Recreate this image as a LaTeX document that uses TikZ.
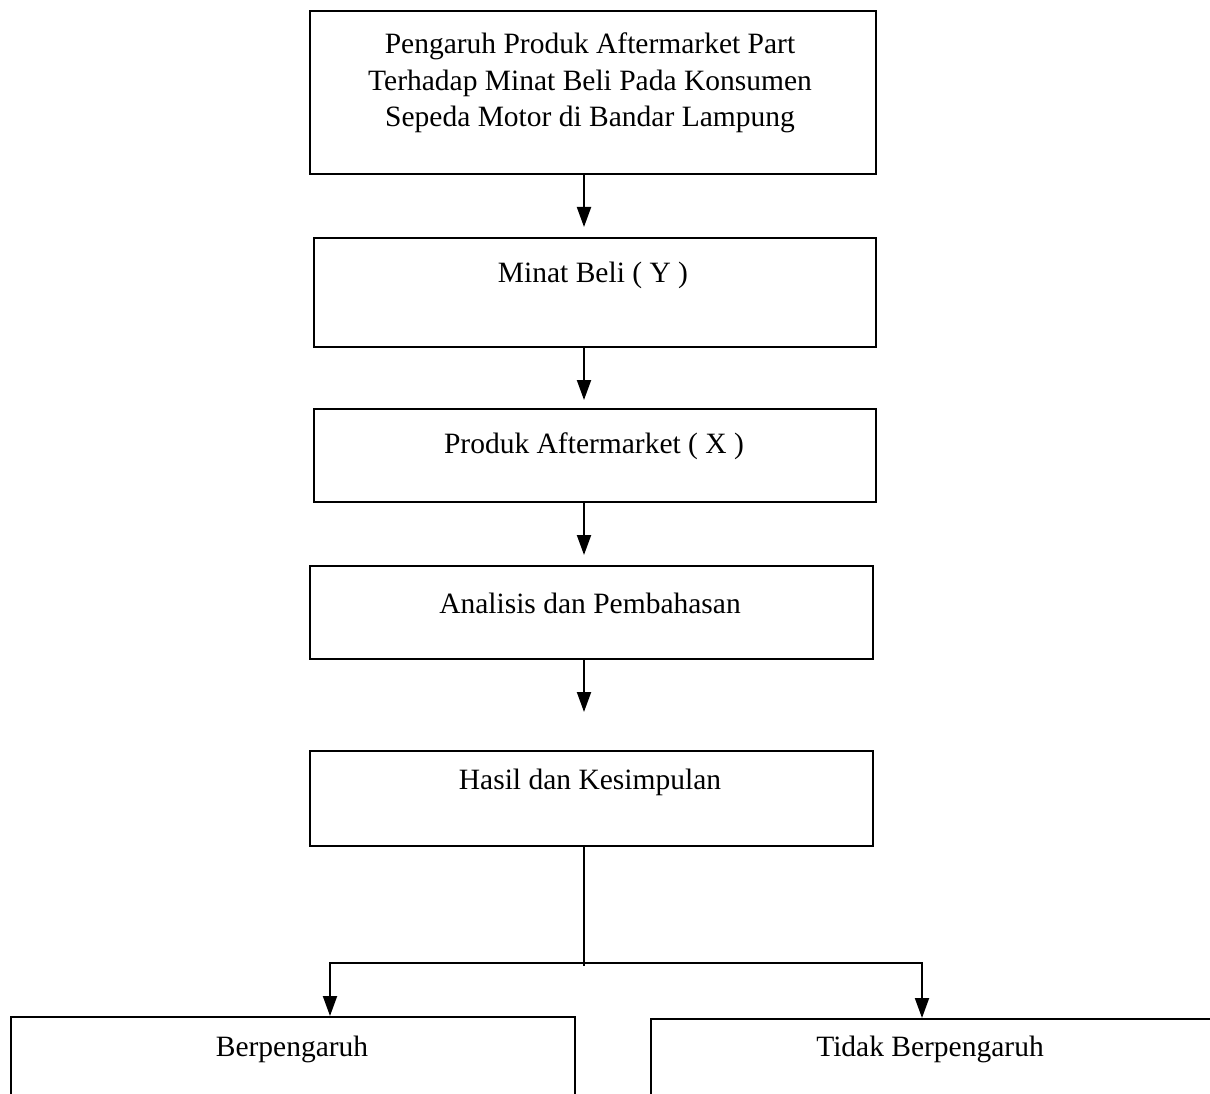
\documentclass[tikz,border=0pt]{standalone}
\usepackage{fontspec}
\setmainfont{Liberation Serif}
\usetikzlibrary{arrows.meta}
\begin{document}
\begin{tikzpicture}[x=1pt,y=-1pt,
  box/.style={draw=black,line width=2pt,rectangle,inner sep=0pt,anchor=north west},
  lbl/.style={font=\fontsize{29.5}{36.5}\selectfont,align=center,inner sep=0pt},
  conn/.style={line width=2pt},
  arr/.style={line width=2pt,-{Triangle[length=20pt,width=14pt]}}]
\useasboundingbox (0,0) rectangle (1210,1094);
\clip (0,0) rectangle (1210,1094);
\node[box,minimum width=566pt,minimum height=163pt] (b1) at (309,10) {};
\node[box,minimum width=562pt,minimum height=109pt] (b2) at (313,237) {};
\node[box,minimum width=562pt,minimum height=93pt] (b3) at (313,408) {};
\node[box,minimum width=563pt,minimum height=93pt] (b4) at (309,565) {};
\node[box,minimum width=563pt,minimum height=95pt] (b5) at (309,750) {};
\node[box,minimum width=564pt,minimum height=120pt] (b6) at (10,1016) {};
\node[box,minimum width=600pt,minimum height=120pt] (b7) at (650,1018) {};
\node[lbl] (t1) at (590,83) {Pengaruh Produk Aftermarket Part\\Terhadap Minat Beli Pada Konsumen\\Sepeda Motor di Bandar Lampung};
\node[lbl] (t2) at (593,275) {Minat Beli ( Y )};
\node[lbl] (t3) at (594,446) {Produk Aftermarket ( X )};
\node[lbl] (t4) at (590,603) {Analisis dan Pembahasan};
\node[lbl] (t5) at (590,782) {Hasil dan Kesimpulan};
\node[lbl] (t6) at (292,1049) {Berpengaruh};
\node[lbl] (t7) at (930,1049) {Tidak Berpengaruh};
\coordinate (a1) at (584,227);
\coordinate (a2) at (584,400);
\coordinate (a3) at (584,555);
\coordinate (a4) at (584,712);
\coordinate (j) at (584,963);
\coordinate (jl) at (330,963);
\coordinate (jr) at (922,963);
\draw[arr] (b1.south -| a1) -- (a1);
\draw[arr] (b2.south -| a2) -- (a2);
\draw[arr] (b3.south -| a3) -- (a3);
\draw[arr] (b4.south -| a4) -- (a4);
\draw[conn] (b5.south -| j) -- ([yshift=-3pt]j);
\draw[arr] (jr) -- (jl) -- (jl |- b6.north);
\draw[arr] (jl) -- (jr) -- (jr |- b7.north);
\end{tikzpicture}
\end{document}
